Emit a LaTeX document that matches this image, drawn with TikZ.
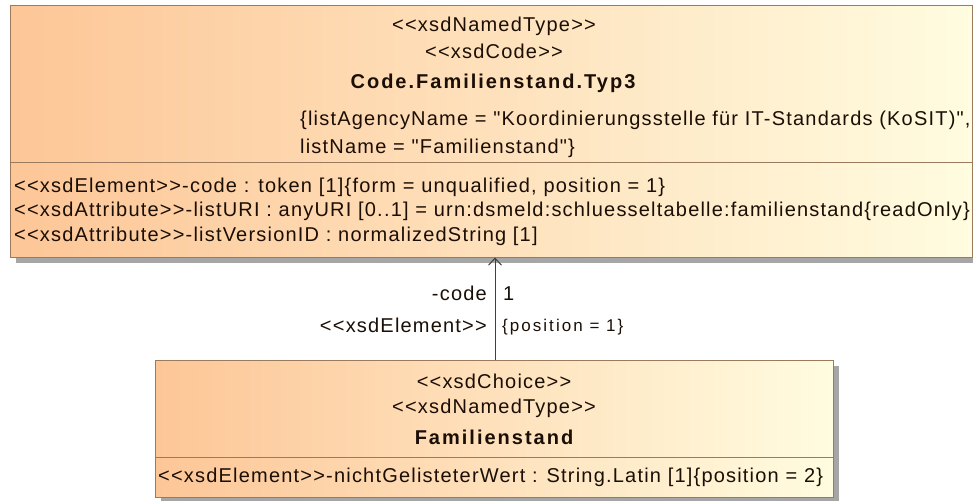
\documentclass[tikz,border=0pt]{standalone}
\usepackage{fontspec}
\setmainfont{Liberation Sans}[Ligatures=TeXOff,LetterSpace=6,BoldFeatures={LetterSpace=10}]
\newfontfamily\smallfam{Liberation Sans}[Ligatures=TeXOff,LetterSpace=12]
\usetikzlibrary{arrows.meta,shadows}
\definecolor{boxl}{HTML}{FDC697}
\definecolor{boxr}{HTML}{FFFCE0}
\definecolor{boxline}{HTML}{9C7A5E}
\definecolor{txt}{HTML}{1A0E05}
\definecolor{shad}{HTML}{A6A6A6}
\begin{document}
\begin{tikzpicture}[x=1pt,y=-1pt,
  classbox/.style={draw=boxline,line width=1pt,rectangle,left color=boxl,right color=boxr,
    drop shadow={shadow xshift=6pt,shadow yshift=-6pt,fill=shad,opacity=1},inner sep=0pt},
  lbl/.style={inner sep=0pt,text=txt,font=\fontsize{20}{23}\selectfont},
  ttl/.style={inner sep=0pt,text=txt,font=\fontsize{20}{23}\selectfont\bfseries},
  small/.style={inner sep=0pt,text=txt,font=\smallfam\fontsize{17}{20}\selectfont},
  conn/.style={draw=black!75,line width=1pt}]
\useasboundingbox (0,0) rectangle (973,500);
\node[classbox,minimum width=962pt,minimum height=251pt] (top) at (491,131.5) {};
\node[classbox,minimum width=678pt,minimum height=137pt] (bot) at (494,428.5) {};
\draw[boxline,line width=1pt] (top.west |- 0,162) coordinate (td1) -- (top.east |- 0,162) coordinate (td2);
\draw[boxline,line width=1pt] (bot.west |- 0,457) coordinate (bd1) -- (bot.east |- 0,457) coordinate (bd2);
% top texts
\node[lbl,anchor=base] (t1) at (494,32) {<<xsdNamedType>>};
\node[lbl,anchor=base] (t2) at (494,59) {<<xsdCode>>};
\node[ttl,anchor=base] (t3) at (493,89) {Code.Familienstand.Typ3};
\node[lbl,anchor=base west] (t4) at (300,125) {\{listAgencyName = "Koordinierungsstelle für IT-Standards (KoSIT)",};
\node[lbl,anchor=base west] (t5) at (300,153) {listName = "Familienstand"\}};
\node[lbl,anchor=base west] (a1) at (14,192) {<<xsdElement>>-code : token [1]\{form = unqualified, position = 1\}};
\node[lbl,anchor=base west] (a2) at (14,216) {<<xsdAttribute>>-listURI : anyURI [0..1] = urn:dsmeld:schluesseltabelle:familienstand\{readOnly\}};
\node[lbl,anchor=base west] (a3) at (14,241) {<<xsdAttribute>>-listVersionID : normalizedString [1]};
% bottom texts
\node[lbl,anchor=base] (b1) at (494,388) {<<xsdChoice>>};
\node[lbl,anchor=base] (b2) at (494,413) {<<xsdNamedType>>};
\node[ttl,anchor=base] (b3) at (494,444) {Familienstand};
\node[lbl,anchor=base west] (b4) at (158,482) {<<xsdElement>>-nichtGelisteterWert : String.Latin [1]\{position = 2\}};
% connector
\coordinate (ax) at (495,0);
\draw[conn,-{Straight Barb[length=7pt,width=13pt,line width=1pt]}] (bot.north -| ax) -- (top.south -| ax);
\node[lbl,anchor=base east] (l1) at (487,300) {-code};
\node[lbl,anchor=base west] (l2) at (503,300) {1};
\node[lbl,anchor=base east] (l3) at (487,332) {<<xsdElement>>};
\node[small,anchor=base west] (l4) at (502,331) {\{position = 1\}};
\end{tikzpicture}
\end{document}
